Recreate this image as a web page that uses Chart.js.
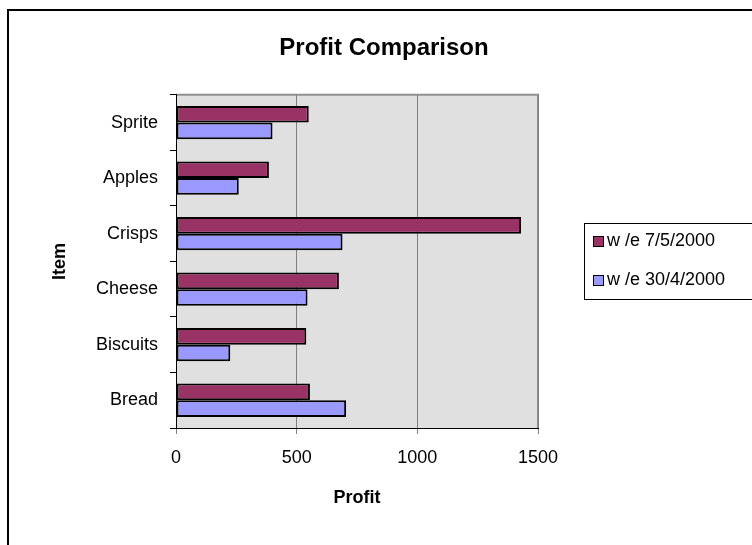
<!DOCTYPE html>
<html>
<head>
<meta charset="utf-8">
<title>Profit Comparison</title>
<script src="https://cdn.jsdelivr.net/npm/chart.js@4"></script>
<style>
  html, body { margin: 0; padding: 0; background: #fff; overflow: hidden; }
  #frame { position: absolute; left: 7px; top: 9px; width: 800px; height: 600px; border: 2px solid #000; }
  #profit { position: absolute; left: 0; top: 0; }
</style>
</head>
<body>
<div id="frame"></div>
<canvas id="profit" width="752" height="545"></canvas>
<script>
/* Profit comparison chart */

const items = ['Sprite', 'Apples', 'Crisps', 'Cheese', 'Biscuits', 'Bread']
const week0705 = [550, 385, 1430, 675, 540, 555]
const week3004 = [400, 260, 690, 545, 225, 705]
const profitTicks = [0, 500, 1000, 1500]

const Text = {
  TITLE: 'Profit Comparison',
  X_TITLE: 'Profit',
  Y_TITLE: 'Item',
  SERIES_1: 'w /e 7/5/2000',
  SERIES_2: 'w /e 30/4/2000'
}

Chart.defaults.font.family = '"Liberation Sans", Arial, sans-serif'
Chart.defaults.color = '#000'

// grey plot area with a thin frame on top and right
const plotBack = {
  id: 'plotBack',
  beforeDraw(chart) {
    const { ctx, chartArea: a } = chart
    ctx.save()
    ctx.fillStyle = '#e0e0e0'
    ctx.fillRect(a.left, a.top, a.right - a.left, a.bottom - a.top)
    ctx.strokeStyle = '#909090'
    ctx.lineWidth = 2
    ctx.beginPath()
    ctx.moveTo(a.left, a.top)
    ctx.lineTo(a.right, a.top)
    ctx.lineTo(a.right, a.bottom)
    ctx.stroke()
    ctx.restore()
  }
}

// boxed legend to the right, like the old spreadsheet one
const boxLegend = {
  id: 'boxLegend',
  afterDraw(chart) {
    const { ctx, chartArea: a } = chart
    const x = a.right + 46
    const y = Math.round((a.top + a.bottom) / 2) - 38
    ctx.save()
    ctx.lineWidth = 1
    ctx.strokeStyle = '#000'
    ctx.strokeRect(x + 0.5, y + 0.5, 300, 76)
    ctx.font = '18px "Liberation Sans", Arial, sans-serif'
    ctx.textBaseline = 'middle'
    chart.data.datasets.forEach((ds, i) => {
      const cy = y + 18 + i * 39
      ctx.fillStyle = ds.backgroundColor
      ctx.fillRect(x + 9, cy - 5, 10, 10)
      ctx.strokeRect(x + 9.5, cy - 4.5, 10, 10)
      ctx.fillStyle = '#000'
      ctx.fillText(ds.label, x + 23, cy)
    })
    ctx.restore()
  }
}

new Chart(document.getElementById('profit'), {
  type: 'bar',
  data: {
    labels: items,
    datasets: [
      {
        label: Text.SERIES_1,
        data: week0705,
        backgroundColor: '#993366',
        borderColor: '#000',
        borderWidth: 2,
        borderSkipped: false,
        categoryPercentage: 0.6,
        barPercentage: 1
      },
      {
        label: Text.SERIES_2,
        data: week3004,
        backgroundColor: '#9999ff',
        borderColor: '#000',
        borderWidth: 2,
        borderSkipped: false,
        categoryPercentage: 0.6,
        barPercentage: 1
      }
    ]
  },
  options: {
    indexAxis: 'y',
    responsive: false,
    animation: false,
    layout: { padding: { left: 16 } },
    plugins: {
      title: {
        display: true,
        text: Text.TITLE,
        font: { size: 24, weight: 'bold' },
        padding: { top: 34, bottom: 32 }
      },
      legend: { display: false },
      tooltip: { enabled: false }
    },
    scales: {
      x: {
        min: 0,
        max: 1500,
        afterBuildTicks: s => { s.ticks = profitTicks.map(v => ({ value: v })) },
        afterFit: s => { s.height = 117; s.paddingRight = 214 },
        grid: { color: '#808080', lineWidth: 1, tickLength: 6 },
        border: { color: '#000', width: 1 },
        ticks: { font: { size: 18 }, padding: 13, callback: v => String(v) },
        title: {
          display: true,
          text: Text.X_TITLE,
          font: { size: 18, weight: 'bold' },
          padding: { top: 4, bottom: 36 }
        }
      },
      y: {
        afterFit: s => { s.width = 160 },
        grid: { drawOnChartArea: false, color: '#000', tickLength: 6 },
        border: { color: '#000', width: 1 },
        ticks: { font: { size: 18 }, padding: 12 },
        title: {
          display: true,
          text: Text.Y_TITLE,
          font: { size: 18, weight: 'bold' },
          padding: { top: 33 }
        }
      }
    }
  },
  plugins: [plotBack, boxLegend]
})
</script>
</body>
</html>
